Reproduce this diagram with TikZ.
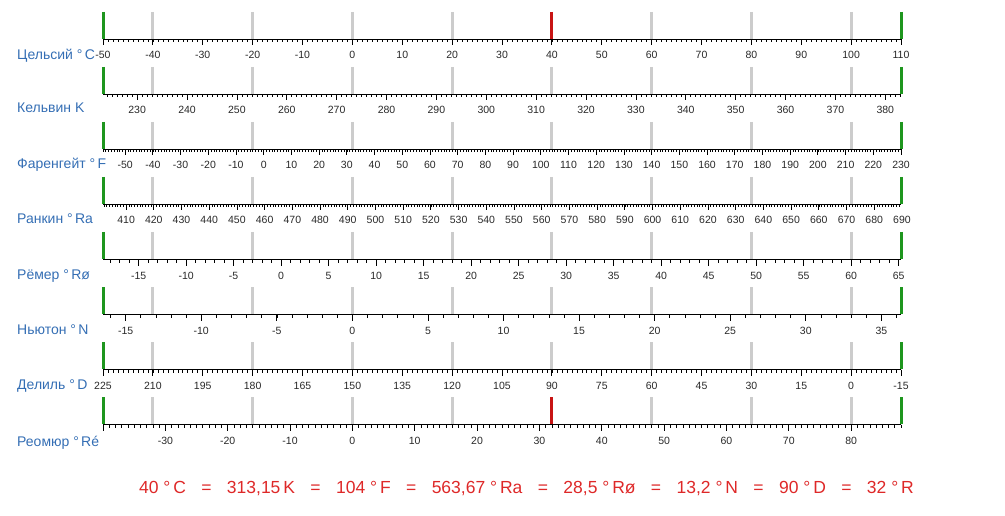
\documentclass[tikz,border=0pt]{standalone}
\usepackage{fontspec}
\setmainfont{Liberation Sans}
\usetikzlibrary{positioning}

\definecolor{barGray}{RGB}{204,204,204}
\definecolor{barGreen}{RGB}{30,150,30}
\definecolor{barRed}{RGB}{200,20,20}
\definecolor{nameBlue}{RGB}{52,110,180}
\definecolor{resultRed}{RGB}{222,40,40}
\definecolor{numGray}{RGB}{40,40,40}

% #1 axis y, #2 offset, #3 factor (to Celsius+50), #4 minor, #5 major, #6 labels, #7 prefix
\newcommand\thermoscale[7]{%
  \foreach \c in {-40,-20,...,100}
    \draw[bar, barGray] ({103+(\c+50)*4.9875},#1-27.5) -- ++(0,27);
  \foreach \c in {-50,110}
    \draw[bar, barGreen] ({103+(\c+50)*4.9875},#1-27.5) -- ++(0,27);
  \draw[axisline] (103,#1) -- (901,#1);
  \foreach \v in {#4}
    \draw[minortick] ({103+(#2+#3*\v)*4.9875},#1) -- ++(0,3);
  \foreach \v in {#5}
    \draw[majortick] ({103+(#2+#3*\v)*4.9875},#1) -- ++(0,6);
  \foreach \v in {#6}
    \node[ticklabel] (#7\v) at ({103+(#2+#3*\v)*4.9875},#1+19.5) {\v};
}

\begin{document}
\begin{tikzpicture}[x=1pt, y=-1pt,
  bar/.style={line width=3pt},
  axisline/.style={line width=1pt, black},
  minortick/.style={line width=0.6pt, black},
  majortick/.style={line width=0.8pt, black},
  ticklabel/.style={anchor=base, text=numGray, inner sep=0pt, font=\fontsize{10.5}{12}\selectfont},
  scalename/.style={anchor=base west, text=nameBlue, inner sep=0pt, font=\fontsize{14}{16}\selectfont},
  result/.style={anchor=base, text=resultRed, inner sep=0pt, font=\fontsize{17.5}{20}\selectfont}
]
\useasboundingbox (0,0) rectangle (1005,516);

\thermoscale{39.5}{50}{1}{-50,-49,...,110}{-50,-40,...,110}{-50,-40,...,110}{C}
\thermoscale{94.5}{-223.15}{1}{224,225,...,383}{230,240,...,380}{230,240,...,380}{K}
\thermoscale{149.5}{32.22222}{0.555556}{-58,-57,...,230}{-50,-40,...,230}{-50,-40,...,230}{F}
\thermoscale{204.5}{-223.15}{0.555556}{402,403,...,689}{410,420,...,680}{410,420,...,690}{Ra}
\thermoscale{259.5}{35.714286}{1.904762}{-18,-17,...,65}{-15,-10,...,65}{-15,-10,...,65}{Ro}
\thermoscale{314.5}{50}{3.030303}{-16,-15,...,36}{-15,-10,...,35}{-15,-10,...,35}{N}
\thermoscale{369.5}{150}{-0.6666667}{-15,-13.5,...,225}{-15,0,...,225}{-15,0,...,225}{D}
\thermoscale{424.5}{50}{1.25}{-40,-39,...,88}{-40,-30,...,80}{-30,-20,...,80}{Re}

% current reading
\draw[bar, barRed] ({103+90*4.9875},12) -- ++(0,27);
\draw[bar, barRed] ({103+90*4.9875},397) -- ++(0,27);

\node[scalename] (nameC) at (17,59.5) {Цельсий °\,C};
\node[scalename] (nameK) at (17,112.5) {Кельвин K};
\node[scalename] (nameF) at (17,168.5) {Фаренгейт °\,F};
\node[scalename] (nameRa) at (17,223.5) {Ранкин °\,Ra};
\node[scalename] (nameRo) at (17,279.5) {Рёмер °\,Rø};
\node[scalename] (nameN) at (17,334.5) {Ньютон °\,N};
\node[scalename] (nameD) at (17,389.5) {Делиль °\,D};
\node[scalename] (nameRe) at (17,446.5) {Реомюр °\,Ré};

\node[result] (reading) at (526.5,493.5) {40 °\,C\hspace{0.88em}=\hspace{0.88em}313,15\,K\hspace{0.88em}=\hspace{0.88em}104 °\,F\hspace{0.88em}=\hspace{0.88em}563,67 °\,Ra\hspace{0.88em}=\hspace{0.88em}28,5 °\,Rø\hspace{0.88em}=\hspace{0.88em}13,2 °\,N\hspace{0.88em}=\hspace{0.88em}90 °\,D\hspace{0.88em}=\hspace{0.88em}32 °\,R};
\end{tikzpicture}
\end{document}
